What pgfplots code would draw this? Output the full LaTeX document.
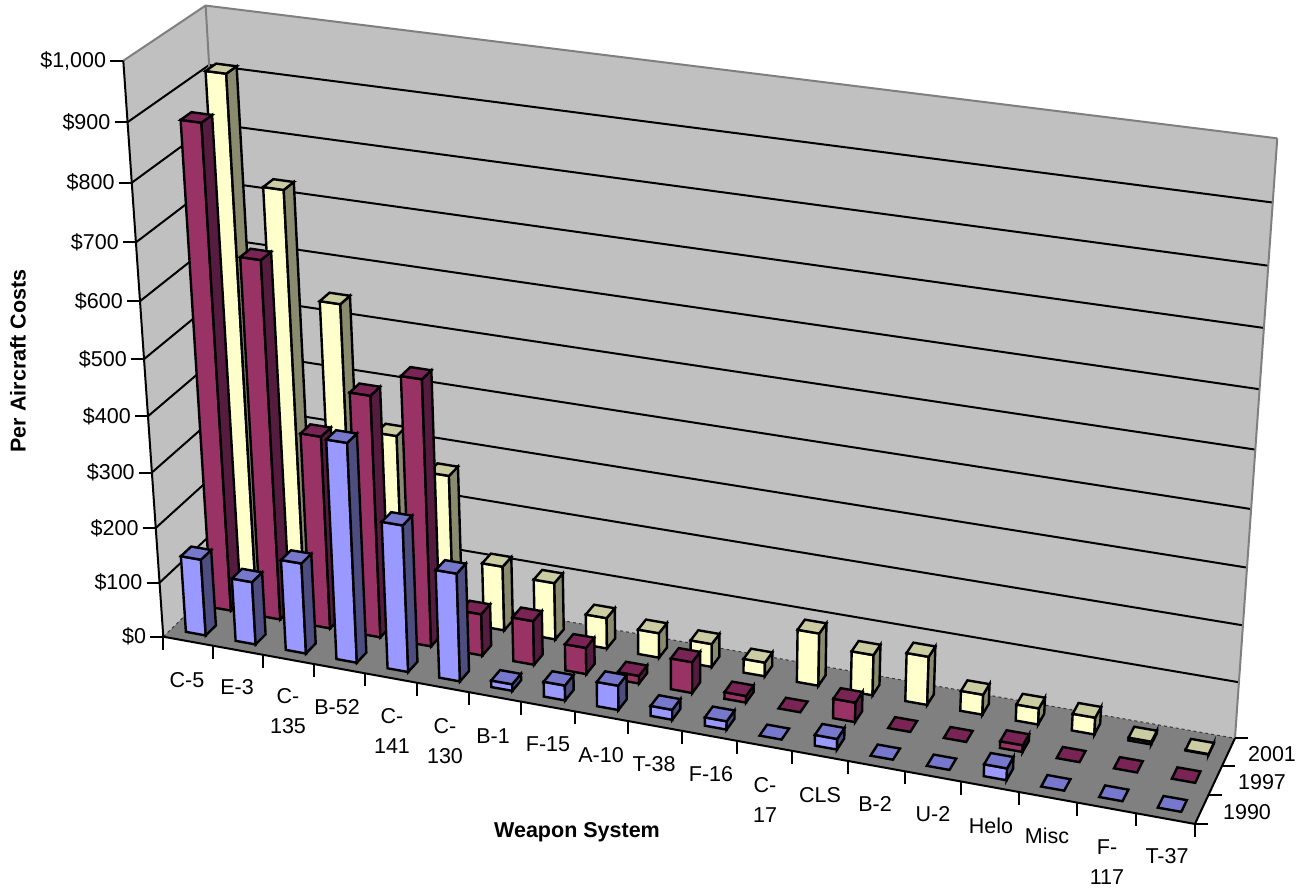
\documentclass[border=0pt]{standalone}
\usepackage{pgfplots}
\pgfplotsset{compat=1.18}
\usepackage{fontspec}
\setmainfont{Liberation Sans}
\definecolor{wall}{HTML}{C0C0C0}
\definecolor{floorc}{HTML}{808080}
\definecolor{edgec}{HTML}{7F7F7F}
\definecolor{yF}{HTML}{FFFFCC}\definecolor{yS}{HTML}{8A8A6E}\definecolor{yT}{HTML}{CCCCA3}
\definecolor{mF}{HTML}{993366}\definecolor{mS}{HTML}{561C3F}\definecolor{mT}{HTML}{7A2455}
\definecolor{bF}{HTML}{9999FF}\definecolor{bS}{HTML}{4D4D80}\definecolor{bT}{HTML}{7777CC}
% projection of (u,v,w) in [0,1]^3 to the picture
\newcommand\PP[3]{%
  \pgfmathsetmacro\pU{(#1)*(1-0.0157*(1-(#1)))}%
  \pgfmathsetmacro\pW{1-0.07363*\pU+0.03838*(#2)-0.07*(#3)}%
  \pgfmathsetmacro\px{(943.71*\pU+84.46*(#2)+163.3-48.63*(#3))/\pW}%
  \pgfmathsetmacro\py{(126.63*\pU-51.05*(#2)+636.7-(580.25+8.25*\pU)*(#3))/\pW}%
}
\newcommand\startpts{\gdef\pts{}}
\newcommand\pt[3]{\PP{#1}{#2}{#3}\xdef\pts{\pts(\px,\py)}}
\newcommand\closepoly[1]{\edef\tmp{\noexpand\addplot[#1,forget plot] coordinates {\pts} --cycle;}\tmp}
\newcommand\openline[1]{\edef\tmp{\noexpand\addplot[#1,forget plot] coordinates {\pts};}\tmp}
\tikzset{barline/.style={draw=black,line width=2.4pt,line join=miter},
  lab/.style={font=\fontsize{21.5}{30}\selectfont,text=black,inner sep=0pt},
  ttl/.style={font=\fontsize{21.5}{26}\selectfont\bfseries,text=black,inner sep=0pt}}
% one bar: category, series, value, front, side, top colours
\newcommand\onebar[6]{%
  \pgfmathsetmacro\ua{(#1+0.3)/19}\pgfmathsetmacro\ub{(#1+0.7)/19}%
  \pgfmathsetmacro\va{(#2+0.3)/3}\pgfmathsetmacro\vb{(#2+0.7)/3}%
  \pgfmathsetmacro\ww{#3/1000}%
  \pgfmathparse{#3>0?1:0}\ifnum\pgfmathresult>0
    \startpts\pt{\ua}{\va}{0}\pt{\ub}{\va}{0}\pt{\ub}{\va}{\ww}\pt{\ua}{\va}{\ww}%
    \closepoly{fill=#4,barline}%
    \startpts\pt{\ub}{\va}{0}\pt{\ub}{\vb}{0}\pt{\ub}{\vb}{\ww}\pt{\ub}{\va}{\ww}%
    \closepoly{fill=#5,barline}%
  \fi
  \startpts\pt{\ua}{\va}{\ww}\pt{\ub}{\va}{\ww}\pt{\ub}{\vb}{\ww}\pt{\ua}{\vb}{\ww}%
  \closepoly{fill=#6,barline}%
}
\newcommand\series[5]{%
  \foreach \val [count=\ci from 0] in {#5} {\onebar{\ci}{#1}{\val}{#2}{#3}{#4}}%
}
\begin{document}
\begin{tikzpicture}[x=1pt,y=1pt]
\useasboundingbox (0,0) rectangle (1305,890);
\begin{axis}[at={(0,0)},anchor=south west,scale only axis,width=1305pt,height=890pt,
  xmin=0,xmax=1305,ymin=0,ymax=890,y dir=reverse,hide axis,clip=false,no markers]
% walls and floor
\startpts\pt{0}{0}{0}\pt{0}{1}{0}\pt{0}{1}{1}\pt{0}{0}{1}\closepoly{fill=wall,draw=none}
\startpts\pt{0}{1}{0}\pt{1}{1}{0}\pt{1}{1}{1}\pt{0}{1}{1}\closepoly{fill=wall,draw=none}
\startpts\pt{0}{0}{0}\pt{1}{0}{0}\pt{1}{1}{0}\pt{0}{1}{0}\closepoly{fill=floorc,draw=none}
% grid
\foreach \g in {0.1,0.2,0.3,0.4,0.5,0.6,0.7,0.8,0.9} {%
  \startpts\pt{0}{0}{\g}\pt{0}{1}{\g}\pt{1}{1}{\g}\openline{black,line width=2pt}}
\startpts\pt{0}{0}{1}\pt{0}{1}{1}\pt{1}{1}{1}\openline{edgec,line width=2pt}
\startpts\pt{0}{1}{0}\pt{0}{1}{1}\openline{edgec,line width=2pt}
\startpts\pt{1}{1}{0}\pt{1}{1}{1}\openline{edgec,line width=2pt}
\startpts\pt{0}{0}{0}\pt{0}{1}{0}\pt{1}{1}{0}\openline{black!55!gray,line width=1pt,dashed}
% axes
\startpts\pt{0}{0}{0}\pt{0}{0}{1}\openline{black,line width=2pt}
\startpts\pt{0}{0}{0}\pt{1}{0}{0}\pt{1}{1}{0}\openline{black,line width=2pt}
% value ticks
\foreach \g/\lab in {0/\$0,1/\$100,2/\$200,3/\$300,4/\$400,5/\$500,6/\$600,7/\$700,8/\$800,9/\$900,10/{\$1,000}} {%
  \pgfmathsetmacro\gg{\g/10}\PP{0}{0}{\gg}%
  \pgfmathsetmacro\qx{\px-13}\pgfmathsetmacro\lx{\px-17}%
  \edef\tmp{\noexpand\addplot[black,line width=2pt,forget plot] coordinates {(\qx,\py)(\px,\py)};
    \noexpand\node[lab,anchor=east] at (axis cs:\lx,\py) {\expandafter\noexpand\lab};}\tmp}
% category ticks
\foreach \g in {0,...,19} {%
  \pgfmathsetmacro\gg{\g/19}\PP{\gg}{0}{0}\pgfmathsetmacro\qy{\py+13}%
  \edef\tmp{\noexpand\addplot[black,line width=2pt,forget plot] coordinates {(\px,\py)(\px,\qy)};}\tmp}
% series ticks
\foreach \g in {0,1,2,3} {%
  \pgfmathsetmacro\gg{\g/3}\PP{1}{\gg}{0}\pgfmathsetmacro\qx{\px+13}%
  \edef\tmp{\noexpand\addplot[black,line width=2pt,forget plot] coordinates {(\px,\py)(\qx,\py)};}\tmp}
% bars, rear series first
\series{2}{yF}{yS}{yT}{915,730,545,325,268,118,104,56,45,42,25,95,73,87,36,29,30,5,1}
\series{1}{mF}{mS}{mT}{865,645,350,437,480,76,80,48,14,56,12,0,35,0,0,12,0,0,0}
\series{0}{bF}{bS}{bT}{140,115,165,395,265,195,12,27,44,18,15,0,19,0,0,21,0,0,0}
% category labels
\node[lab] at (axis cs:187,680) {C-5};
\node[lab] at (axis cs:237,687) {E-3};
\node[lab,align=center] at (axis cs:288,711) {C-\\135};
\node[lab] at (axis cs:337,707) {B-52};
\node[lab,align=center] at (axis cs:392,731) {C-\\141};
\node[lab,align=center] at (axis cs:445,741) {C-\\130};
\node[lab] at (axis cs:493,736) {B-1};
\node[lab] at (axis cs:548,744) {F-15};
\node[lab] at (axis cs:601,755) {A-10};
\node[lab] at (axis cs:654,764) {T-38};
\node[lab] at (axis cs:711,774) {F-16};
\node[lab,align=center] at (axis cs:765,800) {C-\\17};
\node[lab] at (axis cs:820,795) {CLS};
\node[lab] at (axis cs:875,804) {B-2};
\node[lab] at (axis cs:933,814) {U-2};
\node[lab] at (axis cs:991,826) {Helo};
\node[lab] at (axis cs:1047,836) {Misc};
\node[lab,align=center] at (axis cs:1107,862) {F-\\117};
\node[lab] at (axis cs:1167,856) {T-37};
\node[lab] at (axis cs:1272,754) {2001};
\node[lab] at (axis cs:1262,782) {1997};
\node[lab] at (axis cs:1247,812) {1990};
\node[ttl] at (axis cs:577,832) {Weapon System};
\node[ttl,rotate=90] at (axis cs:18,361) {Per Aircraft Costs};
\end{axis}
\end{tikzpicture}
\end{document}
